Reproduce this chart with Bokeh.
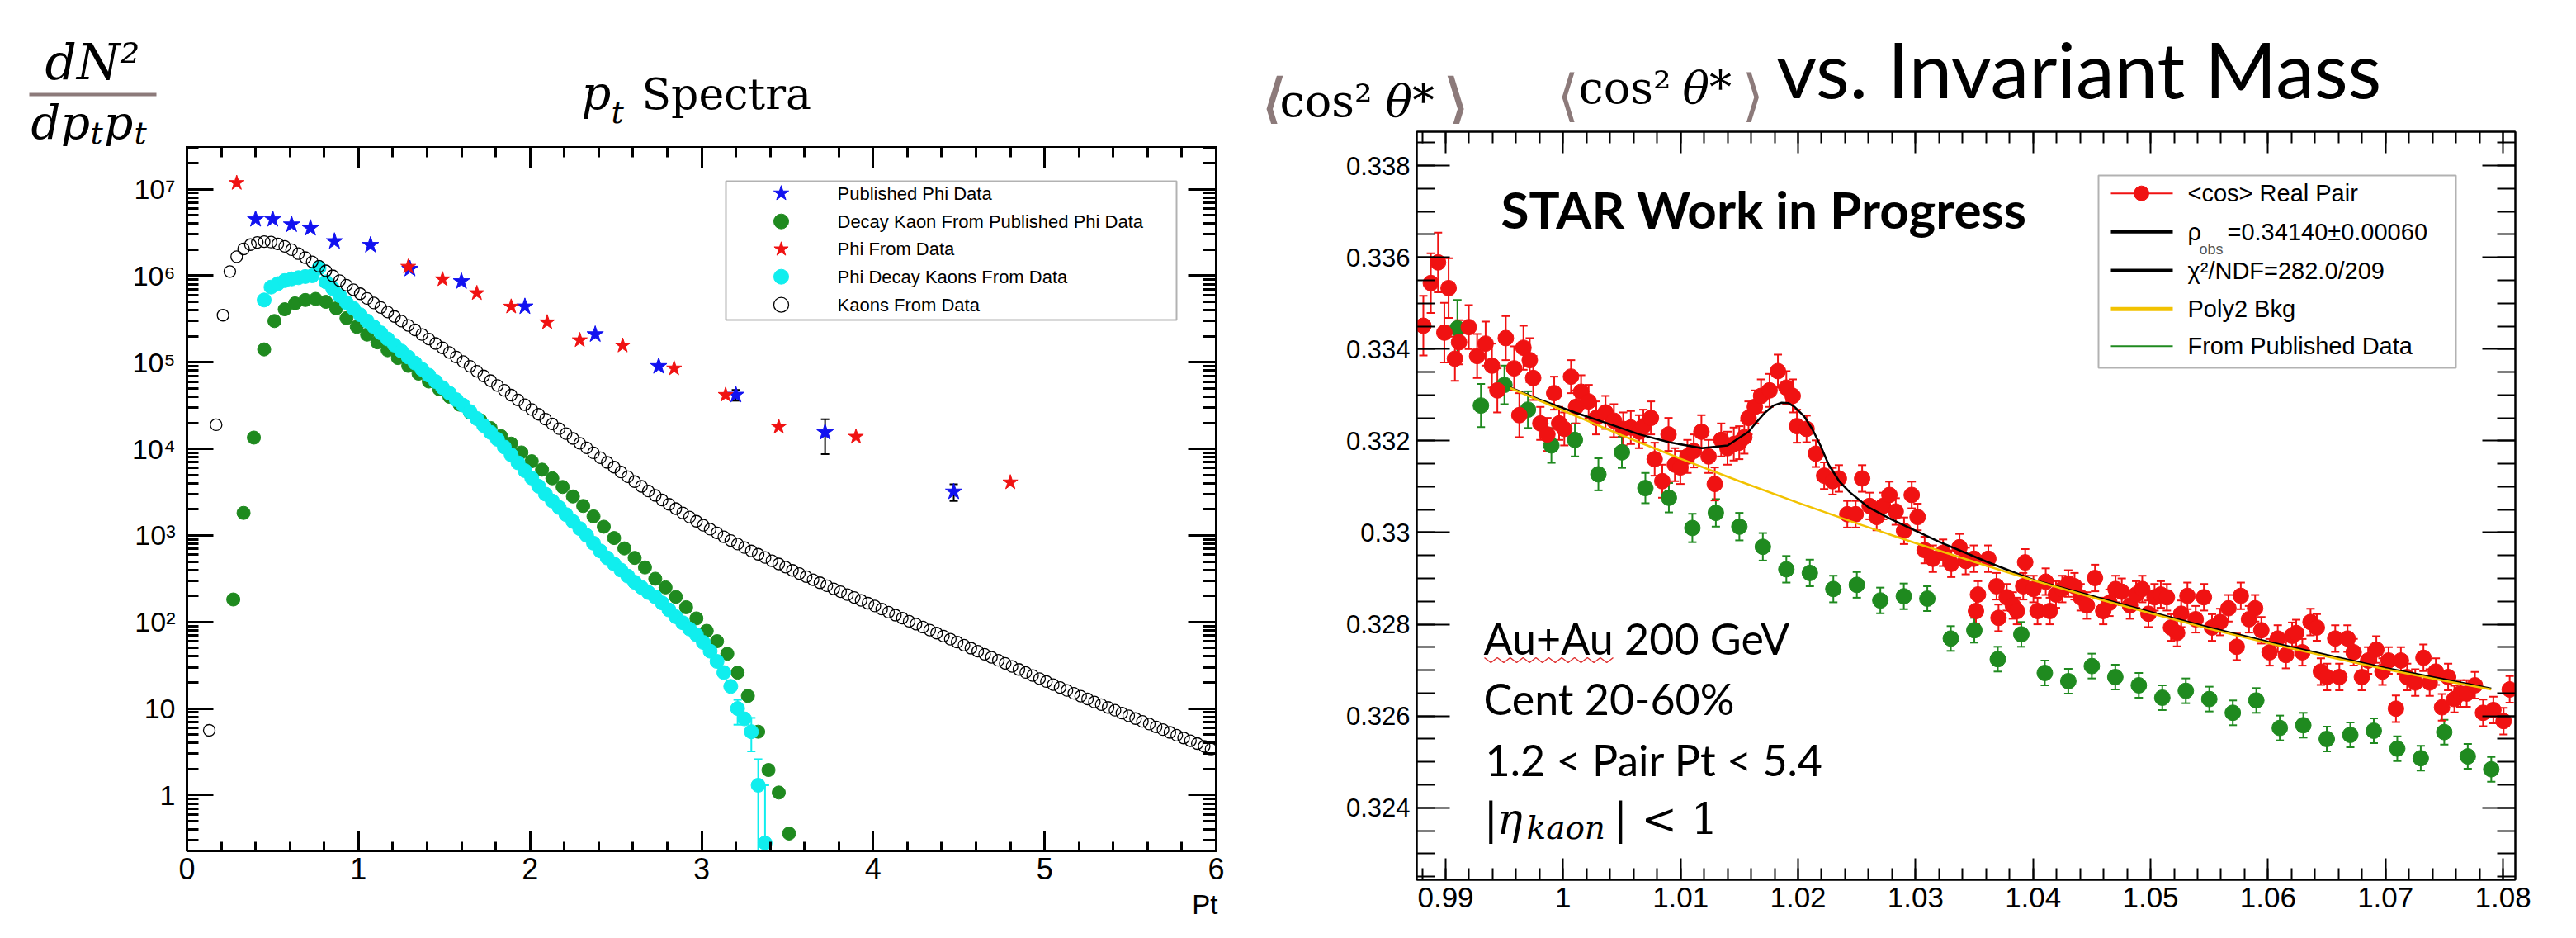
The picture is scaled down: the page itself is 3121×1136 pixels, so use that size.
import math
import numpy as np
from bokeh.plotting import figure
from bokeh.models import (Range1d, FixedTicker, LinearAxis, LogAxis, CustomJSTickFormatter,
                          Label, BoxAnnotation, Whisker, TeeHead, ColumnDataSource)
from bokeh.layouts import row, column
from bokeh.embed import file_html
from bokeh.resources import INLINE

# ===================== DATA : left panel (pt spectra) =====================
published_phi_pt = [0.40, 0.50, 0.61, 0.72, 0.86, 1.07, 1.30, 1.60, 1.97, 2.38, 2.75, 3.20, 3.72, 4.47]
published_phi_val = [4.5e6, 4.5e6, 3.9e6, 3.55e6, 2.5e6, 2.26e6, 1.2e6, 8.6e5, 4.4e5, 2.1e5,
                     9.0e4, 4.2e4, 1.55e4, 3.2e3]
published_phi_err_pt = [3.20, 3.72, 4.47]
published_phi_err_lo = [3.6e4, 8.7e3, 2.5e3]
published_phi_err_hi = [4.8e4, 2.2e4, 3.9e3]

phi_data_pt = [0.29, 1.29, 1.49, 1.69, 1.89, 2.10, 2.29, 2.54, 2.84, 3.14, 3.45, 3.90, 4.80]
phi_data_val = [1.18e7, 1.27e6, 9.1e5, 6.3e5, 4.4e5, 2.9e5, 1.8e5, 1.56e5, 8.5e4, 4.2e4,
                1.8e4, 1.38e4, 4.1e3]

# decay kaons from published phi (green), bins of 0.06 starting at 0.27
decay_kaon_pub_start, decay_kaon_pub_width = 0.27, 0.06
decay_kaon_pub_val = [182, 1820, 1.35e4, 1.41e5, 3.0e5, 4.1e5, 4.8e5, 5.25e5, 5.4e5, 5.0e5,
                      4.2e5, 3.24e5, 2.57e5, 2.09e5, 1.70e5, 1.38e5, 1.12e5, 9.1e4, 7.4e4, 6.0e4,
                      4.9e4, 4.0e4, 3.24e4, 2.63e4, 2.14e4, 1.74e4, 1.41e4, 1.15e4, 9.1e3, 7.2e3,
                      5.75e3, 4.57e3, 3.63e3, 2.82e3, 2.19e3, 1.66e3, 1.26e3, 933, 708, 550,
                      427, 316, 251, 195, 148, 110, 79, 60, 43, 26,
                      14, 5.4, 1.95, 1.07, 0.36]

# phi decay kaons from data (cyan), bins of 0.04 starting at 0.45
decay_kaon_data_start, decay_kaon_data_width = 0.45, 0.04
decay_kaon_data_val = [5.25e5, 7.4e5, 8.1e5, 8.8e5, 9.2e5, 9.5e5, 9.8e5, 1.0e6, 1.23e6, 8.5e5,
                       7.1e5, 5.9e5, 4.9e5, 4.2e5, 3.55e5, 3.0e5, 2.57e5, 2.19e5, 1.86e5, 1.58e5,
                       1.35e5, 1.15e5, 9.8e4, 8.3e4, 7.1e4, 6.0e4, 5.1e4, 4.4e4, 3.7e4, 3.2e4,
                       2.7e4, 2.24e4, 1.86e4, 1.55e4, 1.29e4, 1.05e4, 8.5e3, 6.9e3, 5.6e3, 4.6e3,
                       3.7e3, 3.0e3, 2.5e3, 2.1e3, 1.74e3, 1.45e3, 1.2e3, 1.0e3, 813, 661,
                       550, 468, 398, 339, 288, 251, 219, 195, 166, 138,
                       115, 98, 83, 71, 58, 46, 35, 26, 18, 10,
                       7.6, 5.4, 1.3, 0.28]
decay_kaon_data_err_pt = [3.21, 3.29, 3.33, 3.37]
decay_kaon_data_err_lo = [6.5, 3.2, 0.1, 0.1]
decay_kaon_data_err_hi = [12.6, 7.8, 2.6, 1.3]

# kaons from data (open circles), bins of 0.04 starting at 0.13
kaon_start, kaon_width = 0.13, 0.04
kaon_val = [5.6, 1.9e4, 3.5e5, 1.12e6, 1.66e6, 2.04e6, 2.29e6, 2.43e6, 2.48e6, 2.45e6,
            2.34e6, 2.19e6, 2.0e6, 1.8e6, 1.62e6, 1.45e6, 1.29e6, 1.14e6, 1.0e6, 8.8e5,
            7.8e5, 6.9e5, 6.2e5,
            5.47e5, 4.85e5, 4.31e5, 3.82e5, 3.39e5, 3.0e5, 2.67e5, 2.37e5, 2.1e5, 1.86e5,
            1.65e5, 1.47e5, 1.3e5, 1.15e5, 1.02e5,
            9.0e4, 7.9e4, 6.97e4, 6.14e4, 5.4e4, 4.75e4, 4.18e4, 3.68e4, 3.24e4, 2.85e4,
            2.51e4, 2.21e4, 1.94e4, 1.71e4, 1.5e4, 1.32e4, 1.16e4, 1.03e4, 9.0e3, 7.9e3,
            6.98e3, 6.15e3, 5.4e3, 4.76e3, 4.19e3, 3.69e3, 3.26e3, 2.9e3, 2.57e3, 2.29e3,
            2.04e3, 1.82e3, 1.63e3, 1.46e3, 1.31e3,
            1.18e3, 1.07e3, 965, 875, 795, 724, 662, 606, 556, 510,
            468, 430, 395, 363, 334, 308, 284, 262, 242, 224,
            207, 192, 178, 165, 153,
            141, 130, 120, 111, 102, 94.5, 87.3, 80.6, 74.4, 68.7,
            63.4, 58.5, 54.0, 49.8, 46.0, 42.4, 39.1, 36.1, 33.3, 30.7,
            28.3, 26.1, 24.1, 22.2, 20.5,
            18.9, 17.5, 16.2, 15.0, 13.9, 12.9, 11.9, 11.1, 10.3, 9.55,
            8.87, 8.24, 7.66, 7.11, 6.61, 6.14, 5.70, 5.30, 4.92, 4.57,
            4.25, 3.94, 3.66, 3.40]

pt_tick_labels = [0, 1, 2, 3, 4, 5, 6]

# ===================== DATA : right panel (<cos^2> vs mass) =====================
red_mass = [0.98810, 0.98874, 0.98935, 0.98989, 0.99025, 0.99079, 0.99114, 0.99197, 0.99268, 0.99340,
            0.99394, 0.99440, 0.99512, 0.99583, 0.99627, 0.99662, 0.99716, 0.99745, 0.99806, 0.99866,
            0.99924, 0.99966, 1.00010, 1.00067, 1.00110, 1.00153, 1.00217, 1.00282, 1.00361, 1.00432,
            1.00511, 1.00576, 1.00647, 1.00683, 1.00747, 1.00779, 1.00844, 1.00897, 1.00951, 1.00998,
            1.01058, 1.01112, 1.01177, 1.01238, 1.01291, 1.01345, 1.01399, 1.01453, 1.01499, 1.01542,
            1.01578, 1.01632, 1.01685, 1.01757, 1.01828, 1.01900, 1.01954, 1.01990, 1.02072, 1.02151,
            1.02222, 1.02294, 1.02347, 1.02419, 1.02490, 1.02545, 1.02609, 1.02669, 1.02723, 1.02777,
            1.02831, 1.02902, 1.02967, 1.03017,
            1.03077, 1.03147, 1.03234, 1.03304, 1.03374, 1.03427, 1.03496, 1.03514, 1.03531, 1.03619,
            1.03689, 1.03706, 1.03776, 1.03828, 1.03863, 1.03916, 1.03933, 1.04003, 1.04038, 1.04108,
            1.04143, 1.04195, 1.04248, 1.04300, 1.04353, 1.04405, 1.04458, 1.04527, 1.04597, 1.04650,
            1.04702, 1.04755, 1.04825, 1.04877, 1.04929, 1.04982, 1.05034, 1.05087, 1.05139, 1.05174,
            1.05226, 1.05261, 1.05314, 1.05384, 1.05454, 1.05523, 1.05593, 1.05663, 1.05733, 1.05768,
            1.05838, 1.05890, 1.05943, 1.06013, 1.06083, 1.06153, 1.06205, 1.06240, 1.06292, 1.06362,
            1.06415, 1.06450, 1.06502, 1.06572, 1.06607, 1.06677, 1.06729, 1.06799, 1.06852, 1.06922,
            1.06974, 1.07026, 1.07089, 1.07131, 1.07184, 1.07253, 1.07323, 1.07376, 1.07428, 1.07481,
            1.07533, 1.07586, 1.07638, 1.07691, 1.07761, 1.07830, 1.07918, 1.08005, 1.08057]
red_cos = [0.33451, 0.33544, 0.33589, 0.33436, 0.33533, 0.33379, 0.33415, 0.33448, 0.33385, 0.33412,
           0.33364, 0.33310, 0.33424, 0.33358, 0.33256, 0.33403, 0.33376, 0.33337, 0.33238, 0.33214,
           0.33304, 0.33238, 0.33226, 0.33340, 0.33274, 0.33307, 0.33286, 0.33250, 0.33262, 0.33244,
           0.33226, 0.33229, 0.33220, 0.33232, 0.33250, 0.33160, 0.33112, 0.33214, 0.33148, 0.33142,
           0.33166, 0.33178, 0.33220, 0.33166, 0.33106, 0.33202, 0.33184, 0.33193, 0.33196, 0.33208,
           0.33250, 0.33274, 0.33298, 0.33310, 0.33352, 0.33316, 0.33298, 0.33232, 0.33226, 0.33172,
           0.33124, 0.33112, 0.33118, 0.33040, 0.33040, 0.33118, 0.33058, 0.33034, 0.33058, 0.33082,
           0.33046, 0.33004, 0.33082, 0.33034,
           0.32962, 0.32943, 0.32956, 0.32932, 0.32968, 0.32938, 0.32943, 0.32829, 0.32865, 0.32943,
           0.32883, 0.32814, 0.32859, 0.32841, 0.32829, 0.32883, 0.32935, 0.32877, 0.32829, 0.32893,
           0.32829, 0.32865, 0.32877, 0.32889, 0.32883, 0.32859, 0.32841, 0.32901, 0.32829, 0.32847,
           0.32877, 0.32871, 0.32841, 0.32865, 0.32877, 0.32823, 0.32859, 0.32865, 0.32859, 0.32793,
           0.32781, 0.32823, 0.32862, 0.32811, 0.32859, 0.32793, 0.32805, 0.32835, 0.32751, 0.32862,
           0.32811, 0.32835, 0.32787, 0.32739, 0.32769, 0.32733, 0.32775, 0.32781, 0.32739, 0.32805,
           0.32793, 0.32697, 0.32685, 0.32769, 0.32685, 0.32769, 0.32739, 0.32685, 0.32721, 0.32745,
           0.32697, 0.32721, 0.32616, 0.32721, 0.32685, 0.32673, 0.32727, 0.32673, 0.32697, 0.32619,
           0.32685, 0.32637, 0.32649, 0.32649, 0.32667, 0.32607, 0.32613, 0.32589, 0.32658]
# error-bar half size of the red points by mass range
red_err_edges = [0.9905, 0.998, 1.02]
red_err_sizes = [0.00065, 0.00048, 0.00036, 0.00029]

green_start, green_width = 0.991, 0.002
green_cos = [0.33445, 0.33277, 0.33322, 0.33268, 0.33190, 0.33202, 0.33127, 0.33175, 0.33097, 0.33076,
             0.33010, 0.33043, 0.33013, 0.32969, 0.32920, 0.32912, 0.32877, 0.32886, 0.32852, 0.32861,
             0.32856, 0.32769, 0.32787, 0.32724, 0.32778, 0.32694, 0.32676, 0.32709, 0.32685, 0.32667,
             0.32640, 0.32655, 0.32637, 0.32607, 0.32634, 0.32574, 0.32580, 0.32550, 0.32559, 0.32568,
             0.32529, 0.32508, 0.32565, 0.32512, 0.32484]
green_err = [0.00062, 0.00047, 0.00042, 0.00040, 0.00038, 0.00036, 0.00035, 0.00034, 0.00033, 0.00032,
             0.00031, 0.00030, 0.00030, 0.00030, 0.00029, 0.00029, 0.00029, 0.00028, 0.00028, 0.00028,
             0.00027, 0.00027, 0.00027, 0.00027, 0.00027, 0.00027, 0.00027, 0.00027, 0.00027, 0.00027,
             0.00027, 0.00027, 0.00027, 0.00027, 0.00027, 0.00027, 0.00027, 0.00027, 0.00027, 0.00027,
             0.00027, 0.00027, 0.00027, 0.00027, 0.00027]

fit_mass = [0.9955, 0.998, 1.001, 1.004, 1.0065, 1.009, 1.0118, 1.014, 1.0158, 1.0165,
            1.0172, 1.0179, 1.0186, 1.0192, 1.0197, 1.0205, 1.0212, 1.0219, 1.0226, 1.0235,
            1.0244, 1.026, 1.028, 1.032, 1.036, 1.040, 1.045, 1.050, 1.055, 1.060,
            1.065, 1.070, 1.075, 1.079]
fit_cos = [0.33316, 0.33290, 0.33262, 0.33236, 0.33214, 0.33197, 0.33184, 0.33190, 0.33220, 0.33242,
           0.33262, 0.33277, 0.33283, 0.33282, 0.33274, 0.33254, 0.33226, 0.33190, 0.33148, 0.33112,
           0.33088, 0.33055, 0.33028, 0.32980, 0.32937, 0.32897, 0.32862, 0.32827, 0.32793, 0.32762,
           0.32733, 0.32705, 0.32680, 0.32660]
bkg_mass = [0.9955, 1.000, 1.005, 1.010, 1.015, 1.020, 1.025, 1.030, 1.035, 1.040,
            1.045, 1.050, 1.055, 1.060, 1.065, 1.070, 1.075, 1.079]
bkg_cos = [0.33315, 0.33266, 0.33212, 0.33161, 0.33112, 0.33065, 0.33020, 0.32977, 0.32936, 0.32896,
           0.32859, 0.32824, 0.32790, 0.32759, 0.32730, 0.32702, 0.32677, 0.32658]

mass_tick_labels = [0.99, 1.0, 1.01, 1.02, 1.03, 1.04, 1.05, 1.06, 1.07, 1.08]
cos_tick_labels = [0.324, 0.326, 0.328, 0.330, 0.332, 0.334, 0.336, 0.338]

left_legend_labels = ["Published Phi Data", "Decay Kaon From Published Phi Data", "Phi From Data",
                      "Phi Decay Kaons From Data", "Kaons From Data"]
right_legend_labels = ["<cos> Real Pair", "\u03c1", "\u03c7\u00b2/NDF=282.0/209", "Poly2 Bkg",
                       "From Published Data"]

# ===================== styling =====================
GREEN = "#1f8a1f"
CYAN = "#10eeee"
RED = "#f01212"
BLUE = "#1212f0"
GOLD = "#f2c200"
BRACKET = "#8c7a7a"
SANS = "Liberation Sans"
SERIF = "DejaVu Serif"

# page geometry (pixels of the 3121x1136 page)
L_X0, L_W = 8, 1520          # left column
R_X0, R_W = 1528, 1585       # right column
L_FRAME = (234, 1481, 185, 1038)   # left, right, top, bottom
R_FRAME = (1724, 3055, 167, 1073)
L_XR, L_YR = (0.0, 6.0), (0.2267, 3.11e7)
R_XR, R_YR = (0.98754, 1.08105), (0.32243, 0.33874)


def no_align(fig):
    try:
        fig.frame_align = False
    except Exception:
        pass


def l_data(X, Y):
    l, r, t, b = L_FRAME
    x = L_XR[0] + (X - l) / (r - l) * (L_XR[1] - L_XR[0])
    lt, lb = math.log10(L_YR[1]), math.log10(L_YR[0])
    return x, 10 ** (lt - (Y - t) / (b - t) * (lt - lb))


def r_data(X, Y):
    l, r, t, b = R_FRAME
    x = R_XR[0] + (X - l) / (r - l) * (R_XR[1] - R_XR[0])
    return x, R_YR[1] - (Y - t) / (b - t) * (R_YR[1] - R_YR[0])


def style_axis(ax, maj, mnr, fs, lw, standoff):
    ax.major_tick_in = maj
    ax.major_tick_out = 0
    ax.minor_tick_in = mnr
    ax.minor_tick_out = 0
    ax.axis_line_width = lw
    ax.axis_line_color = "black"
    ax.major_tick_line_width = lw
    ax.minor_tick_line_width = lw
    ax.major_tick_line_color = "black"
    ax.minor_tick_line_color = "black"
    ax.major_label_text_font = SANS
    ax.major_label_text_font_size = fs
    ax.major_label_text_color = "black"
    ax.major_label_standoff = standoff


def blank():
    return CustomJSTickFormatter(code="return '';")


def frame_text(fig, frame, X, Y, text, size, font=SANS, style="normal", color="black",
               align="left", baseline="alphabetic"):
    l, r, t, b = frame
    fig.add_layout(Label(x=X - l, y=b - Y, x_units="screen", y_units="screen",
                         text=text, text_font=font, text_font_size=f"{size}px",
                         text_font_style=style, text_color=color, text_align=align,
                         text_baseline=baseline))


def strip(width, height, x0, y0):
    f = figure(width=width, height=height, x_range=Range1d(x0, x0 + width),
               y_range=Range1d(y0 + height, y0), output_backend="svg", toolbar_location=None,
               min_border=0, x_axis_location=None, y_axis_location=None, title=None)
    f.grid.visible = False
    f.outline_line_color = None
    no_align(f)
    return f


def strip_text(fig, X, Y, text, size, font=SANS, style="normal", color="black",
               align="left", baseline="alphabetic"):
    fig.add_layout(Label(x=X, y=Y, text=text, text_font=font, text_font_size=f"{size}px",
                         text_font_style=style, text_color=color, text_align=align,
                         text_baseline=baseline))


# ===================== LEFT PANEL =====================
t1 = strip(L_W, 177, L_X0, 8)
p1 = figure(width=L_W, height=905, y_axis_type="log",
            x_range=Range1d(*L_XR), y_range=Range1d(*L_YR),
            output_backend="svg", toolbar_location=None,
            min_border_left=226, min_border_right=47, min_border_top=0, min_border_bottom=52)
no_align(p1)
b1 = strip(L_W, 38, L_X0, 1090)
p1.grid.visible = False
p1.outline_line_color = "black"
p1.outline_line_width = 3

pt_minor = [round(0.2 * i, 2) for i in range(31)]
decades = [10.0 ** e for e in range(0, 8)]
decade_minor = [m * 10.0 ** e for e in range(-1, 8) for m in range(2, 10)]
x_tk1 = FixedTicker(ticks=pt_tick_labels, minor_ticks=pt_minor)
y_tk1 = FixedTicker(ticks=decades, minor_ticks=decade_minor)
p1.xaxis[0].ticker = x_tk1
p1.yaxis[0].ticker = y_tk1
p1.yaxis[0].formatter = CustomJSTickFormatter(code="""
const e = Math.round(Math.log10(tick));
if (e === 0) return '1';
if (e === 1) return '10';
const s = {2:'\\u00b2', 3:'\\u00b3', 4:'\\u2074', 5:'\\u2075', 6:'\\u2076', 7:'\\u2077'};
return '10' + s[e];
""")
style_axis(p1.xaxis[0], 24, 11, "36px", 3, 8)
style_axis(p1.yaxis[0], 32, 14, "34px", 3, 14)
top1 = LinearAxis(ticker=x_tk1, formatter=blank())
right1 = LogAxis(ticker=y_tk1, formatter=blank())
style_axis(top1, 26, 13, "1px", 3, 0)
style_axis(right1, 34, 16, "1px", 3, 0)
p1.add_layout(top1, "above")
p1.add_layout(right1, "right")

p1.scatter(published_phi_pt, published_phi_val, marker="star", size=21, fill_color=BLUE, line_color=BLUE)
green_pt = [round(decay_kaon_pub_start + decay_kaon_pub_width * i, 3) for i in range(len(decay_kaon_pub_val))]
p1.scatter(green_pt, decay_kaon_pub_val, marker="circle", size=16, fill_color=GREEN, line_color=GREEN)
p1.scatter(phi_data_pt, phi_data_val, marker="star", size=19, fill_color=RED, line_color=RED)
cyan_pt = [round(decay_kaon_data_start + decay_kaon_data_width * i, 3) for i in range(len(decay_kaon_data_val))]
p1.add_layout(Whisker(source=ColumnDataSource(dict(b=decay_kaon_data_err_pt, lo=decay_kaon_data_err_lo,
                                                   hi=decay_kaon_data_err_hi)),
                      base="b", lower="lo", upper="hi", line_color=CYAN, line_width=2,
                      upper_head=TeeHead(size=10, line_color=CYAN, line_width=2),
                      lower_head=TeeHead(size=10, line_color=CYAN, line_width=2)))
p1.scatter(cyan_pt, decay_kaon_data_val, marker="circle", size=17, fill_color=CYAN, line_color=CYAN)
kaon_pt = [round(kaon_start + kaon_width * i, 3) for i in range(len(kaon_val))]
p1.scatter(kaon_pt, kaon_val, marker="circle", size=14, fill_color=None, line_color="black", line_width=1.3)
p1.add_layout(Whisker(source=ColumnDataSource(dict(b=published_phi_err_pt, lo=published_phi_err_lo,
                                                   hi=published_phi_err_hi)),
                      base="b", lower="lo", upper="hi", line_color="black", line_width=2,
                      upper_head=TeeHead(size=10, line_color="black", line_width=2),
                      lower_head=TeeHead(size=10, line_color="black", line_width=2)))

# legend of the left panel (drawn by hand, ROOT style)
bl, bt = l_data(887, 227)
br, bb = l_data(1433, 395)
p1.add_layout(BoxAnnotation(left=bl, right=br, top=bt, bottom=bb, fill_alpha=0,
                            line_color="black", line_width=2))
leg_rows = [241.7, 275.7, 309.3, 342.7, 376.7]
leg_styles = [dict(marker="star", size=19, fill_color=BLUE, line_color=BLUE),
              dict(marker="circle", size=18, fill_color=GREEN, line_color=GREEN),
              dict(marker="star", size=18, fill_color=RED, line_color=RED),
              dict(marker="circle", size=18, fill_color=CYAN, line_color=CYAN),
              dict(marker="circle", size=18, fill_color=None, line_color="black", line_width=1.3)]
for Y, st, lab in zip(leg_rows, leg_styles, left_legend_labels):
    mx, my = l_data(954, Y)
    p1.scatter([mx], [my], **st)
    frame_text(p1, L_FRAME, 1022, Y, lab, 22, baseline="middle")

# titles of the left panel (y values are given for the label box, baseline + descent)
strip_text(t1, 62, 82, "dN\u00b2", 60, font=SERIF, style="italic")
t1.add_layout(BoxAnnotation(left=43, right=197, top=120, bottom=124, fill_color=BRACKET,
                            fill_alpha=1, line_alpha=0))
strip_text(t1, 45, 156, "dp", 56, font=SERIF, style="italic")
strip_text(t1, 117, 168, "t", 38, font=SERIF, style="italic")
strip_text(t1, 133, 156, "p", 56, font=SERIF, style="italic")
strip_text(t1, 170, 168, "t", 38, font=SERIF, style="italic")
strip_text(t1, 712, 120, "p", 56, font=SERIF, style="italic")
strip_text(t1, 748, 143, "t", 38, font=SERIF, style="italic")
strip_text(t1, 785, 121, "Spectra", 52, font=SERIF)
strip_text(b1, 1483, 1103, "Pt", 33, align="right")

# ===================== RIGHT PANEL =====================
t2 = strip(R_W, 150, R_X0, 8)
p2 = figure(width=R_W, height=962,
            x_range=Range1d(*R_XR), y_range=Range1d(*R_YR),
            output_backend="svg", toolbar_location=None,
            min_border_left=196, min_border_right=58, min_border_top=9, min_border_bottom=47)
no_align(p2)
b2 = strip(R_W, 8, R_X0, 1120)
p2.grid.visible = False
p2.outline_line_color = "black"
p2.outline_line_width = 2

mass_minor = [round(0.988 + 0.002 * i, 3) for i in range(47)]
cos_minor = [round(0.3225 + 0.0005 * i, 4) for i in range(33)]
x_tk2 = FixedTicker(ticks=mass_tick_labels, minor_ticks=mass_minor)
y_tk2 = FixedTicker(ticks=cos_tick_labels, minor_ticks=cos_minor)
trim = CustomJSTickFormatter(code="""
let s = tick.toFixed(3); s = s.replace(/0+$/, ''); s = s.replace(/\\.$/, ''); return s;
""")
p2.xaxis[0].ticker = x_tk2
p2.yaxis[0].ticker = y_tk2
p2.xaxis[0].formatter = trim
p2.yaxis[0].formatter = trim
style_axis(p2.xaxis[0], 26, 14, "35px", 2, 9)
style_axis(p2.yaxis[0], 40, 22, "31px", 2, 8)
top2 = LinearAxis(ticker=x_tk2, formatter=blank())
right2 = LinearAxis(ticker=y_tk2, formatter=blank())
style_axis(top2, 26, 14, "1px", 2, 0)
style_axis(right2, 40, 22, "1px", 2, 0)
p2.add_layout(top2, "above")
p2.add_layout(right2, "right")

red_err = [red_err_sizes[int(np.searchsorted(red_err_edges, m))] for m in red_mass]
green_mass = [round(green_start + green_width * i, 3) for i in range(len(green_cos))]

p2.add_layout(Whisker(source=ColumnDataSource(dict(b=green_mass,
                                                   lo=[c - e for c, e in zip(green_cos, green_err)],
                                                   hi=[c + e for c, e in zip(green_cos, green_err)])),
                      base="b", lower="lo", upper="hi", line_color=GREEN, line_width=2, level="underlay",
                      upper_head=TeeHead(size=10, line_color=GREEN, line_width=2),
                      lower_head=TeeHead(size=10, line_color=GREEN, line_width=2)))
p2.add_layout(Whisker(source=ColumnDataSource(dict(b=red_mass,
                                                   lo=[c - e for c, e in zip(red_cos, red_err)],
                                                   hi=[c + e for c, e in zip(red_cos, red_err)])),
                      base="b", lower="lo", upper="hi", line_color=RED, line_width=2, level="underlay",
                      upper_head=TeeHead(size=10, line_color=RED, line_width=2),
                      lower_head=TeeHead(size=10, line_color=RED, line_width=2)))
p2.scatter(green_mass, green_cos, marker="circle", size=19, fill_color=GREEN, line_color=GREEN)
p2.scatter(red_mass, red_cos, marker="circle", size=19, fill_color=RED, line_color=RED)
p2.line(fit_mass, fit_cos, line_color="black", line_width=2.5)
p2.line(bkg_mass, bkg_cos, line_color=GOLD, line_width=2.5)

# legend of the right panel (drawn by hand, ROOT style)
bl, bt = r_data(2550, 220)
br, bb = r_data(2983, 453)
p2.add_layout(BoxAnnotation(left=bl, right=br, top=bt, bottom=bb, fill_alpha=0,
                            line_color="black", line_width=2))
r_rows = [241.7, 288.3, 335.0, 381.7, 426.7]
r_line_styles = [(RED, 2), ("black", 4), ("black", 4), (GOLD, 5), (GREEN, 2)]
for Y, (col, lw) in zip(r_rows, r_line_styles):
    x0, yy = r_data(2565, Y)
    x1, _ = r_data(2640, Y)
    p2.line([x0, x1], [yy, yy], line_color=col, line_width=lw)
mx, my = r_data(2602, r_rows[0])
p2.scatter([mx], [my], marker="circle", size=18, fill_color=RED, line_color=RED)
frame_text(p2, R_FRAME, 2658, r_rows[0], right_legend_labels[0], 29, baseline="middle")
frame_text(p2, R_FRAME, 2658, r_rows[1], right_legend_labels[1], 29, baseline="middle")
frame_text(p2, R_FRAME, 2672, 309, "obs", 18, color="#555555")
frame_text(p2, R_FRAME, 2706, r_rows[1], "=0.34140\u00b10.00060", 29, baseline="middle")
frame_text(p2, R_FRAME, 2658, r_rows[2], right_legend_labels[2], 29, baseline="middle")
frame_text(p2, R_FRAME, 2658, r_rows[3], right_legend_labels[3], 29, baseline="middle")
frame_text(p2, R_FRAME, 2658, r_rows[4], right_legend_labels[4], 29, baseline="middle")

# texts inside the right frame (y values are given for the label box, baseline + descent)
frame_text(p2, R_FRAME, 1826, 260, "STAR Work in Progress", 62, font="Lato", style="bold")
frame_text(p2, R_FRAME, 1805, 780, "Au+Au 200 GeV", 52, font="Lato")
frame_text(p2, R_FRAME, 1805, 853, "Cent 20-60%", 52, font="Lato")
frame_text(p2, R_FRAME, 1807, 927, "1.2 < Pair Pt < 5.4", 52, font="Lato")
frame_text(p2, R_FRAME, 1805, 999, "|", 52, font=SERIF)
frame_text(p2, R_FRAME, 1821, 999, "\u03b7", 52, font=SERIF, style="italic")
frame_text(p2, R_FRAME, 1857, 1010, "kaon", 39, font=SERIF, style="italic")
frame_text(p2, R_FRAME, 1962, 999, "| < 1", 52, font=SERIF)
# red spell-check squiggle under "Au+Au" as in the slide
sq_x, sq_y = [], []
for k in range(21):
    xx, yy = r_data(1806 + 7.8 * k, 804 if k % 2 == 0 else 810)
    sq_x.append(xx)
    sq_y.append(yy)
p2.line(sq_x, sq_y, line_color="#e03030", line_width=1.5)

# titles above the right frame
strip_text(t2, 1534, 136, "\u27e8", 90, font="DejaVu Sans", color=BRACKET)
strip_text(t2, 1558, 130, "cos\u00b2", 54, font=SERIF)
strip_text(t2, 1686, 130, "\u03b8*", 54, font=SERIF, style="italic")
strip_text(t2, 1754, 136, "\u27e9", 90, font="DejaVu Sans", color=BRACKET)
strip_text(t2, 1894, 123, "\u27e8", 68, font="DejaVu Sans", color=BRACKET)
strip_text(t2, 1920, 114, "cos\u00b2", 54, font=SERIF)
strip_text(t2, 2046, 114, "\u03b8*", 54, font=SERIF, style="italic")
strip_text(t2, 2118, 123, "\u27e9", 68, font="DejaVu Sans", color=BRACKET)
strip_text(t2, 2160, 90, "vs. Invariant Mass", 94, font="Lato")
strip_text(b2, 3055, 1122, "Inv Mass", 34, align="right", baseline="top")

layout = row(column(t1, p1, b1), column(t2, p2, b2))
open("out.html", "w").write(file_html(layout, INLINE))
